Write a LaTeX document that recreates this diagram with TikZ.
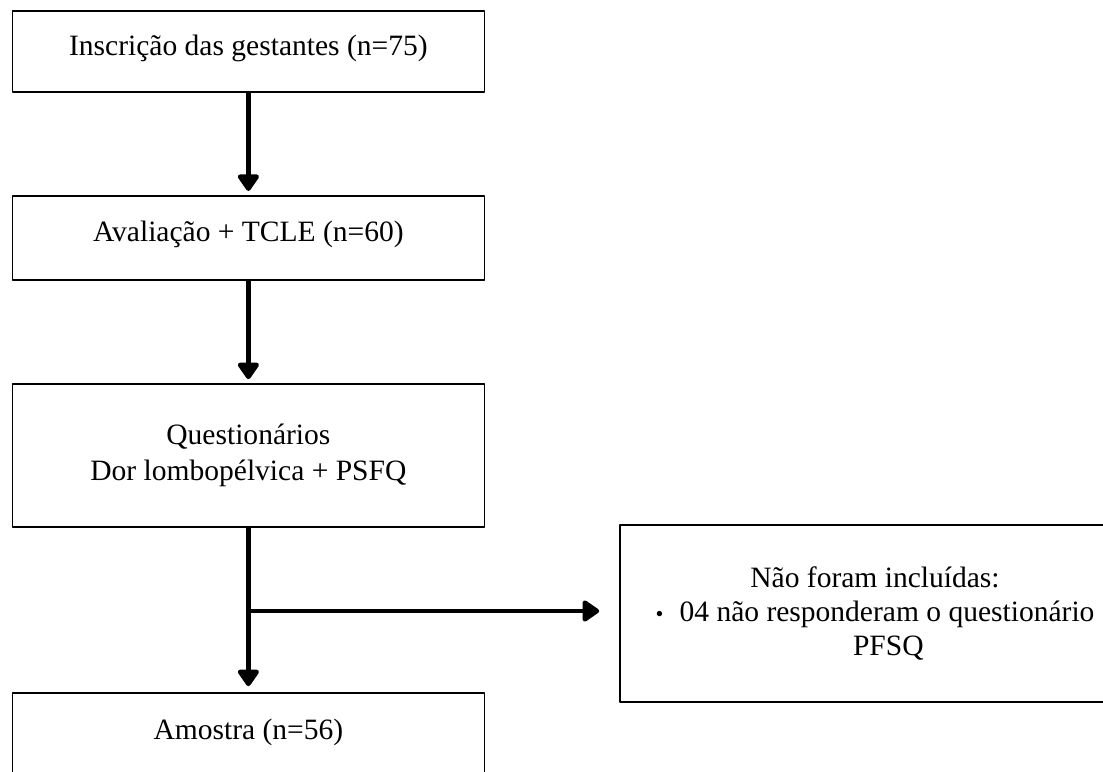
\documentclass[tikz,border=0pt]{standalone}
\usepackage{fontspec}
\setmainfont{Liberation Serif}
\usetikzlibrary{arrows.meta}

\begin{document}
\begin{tikzpicture}[line cap=round,line join=round,
  box/.style={draw,line width=1.2pt,minimum width=11.8cm,inner sep=0pt,font=\fontsize{21}{26}\selectfont},
  onebox/.style={box,text height=0.5cm,text depth=0.3cm},
  flow/.style={line width=3.2pt,line cap=butt,-{Triangle[width=6mm,length=4.6mm,round]}}]
  \useasboundingbox (0,0) rectangle (27.575,19.275);
  \node[onebox,minimum height=2.02cm] (insc) at (6.21,17.99) {Inscrição das gestantes (n=75)};
  \node[onebox,minimum height=2.1cm] (aval) at (6.21,13.33) {Avaliação + TCLE (n=60)};
  \node[box,minimum height=3.57cm,align=center] (quest) at (6.21,7.89) {Questionários\\Dor lombopélvica + PSFQ};
  \node[onebox,minimum height=2.1cm] (amostra) at (6.21,0.9) {Amostra (n=56)};
  \node[box,minimum width=12.75cm,minimum height=4.42cm,align=center,font=\fontsize{21}{24}\selectfont] (excl) at (21.875,3.94)
    {Não foram incluídas:\\{\fontsize{16}{16}\selectfont\textbullet}\hspace{0.55em}04 não responderam o questionário\\\hspace*{0.9em}PFSQ};
  \coordinate (split) at (quest.south |- 0,4);
  \draw[flow,shorten >=1mm] (insc.south) -- (aval.north); \draw[flow,shorten >=1mm] (aval.south) -- (quest.north);
  \draw[flow,shorten >=1.5mm] (quest.south) -- (amostra.north); \draw[flow,shorten >=5mm] (split) -- (split -| excl.west);
\end{tikzpicture}
\end{document}
